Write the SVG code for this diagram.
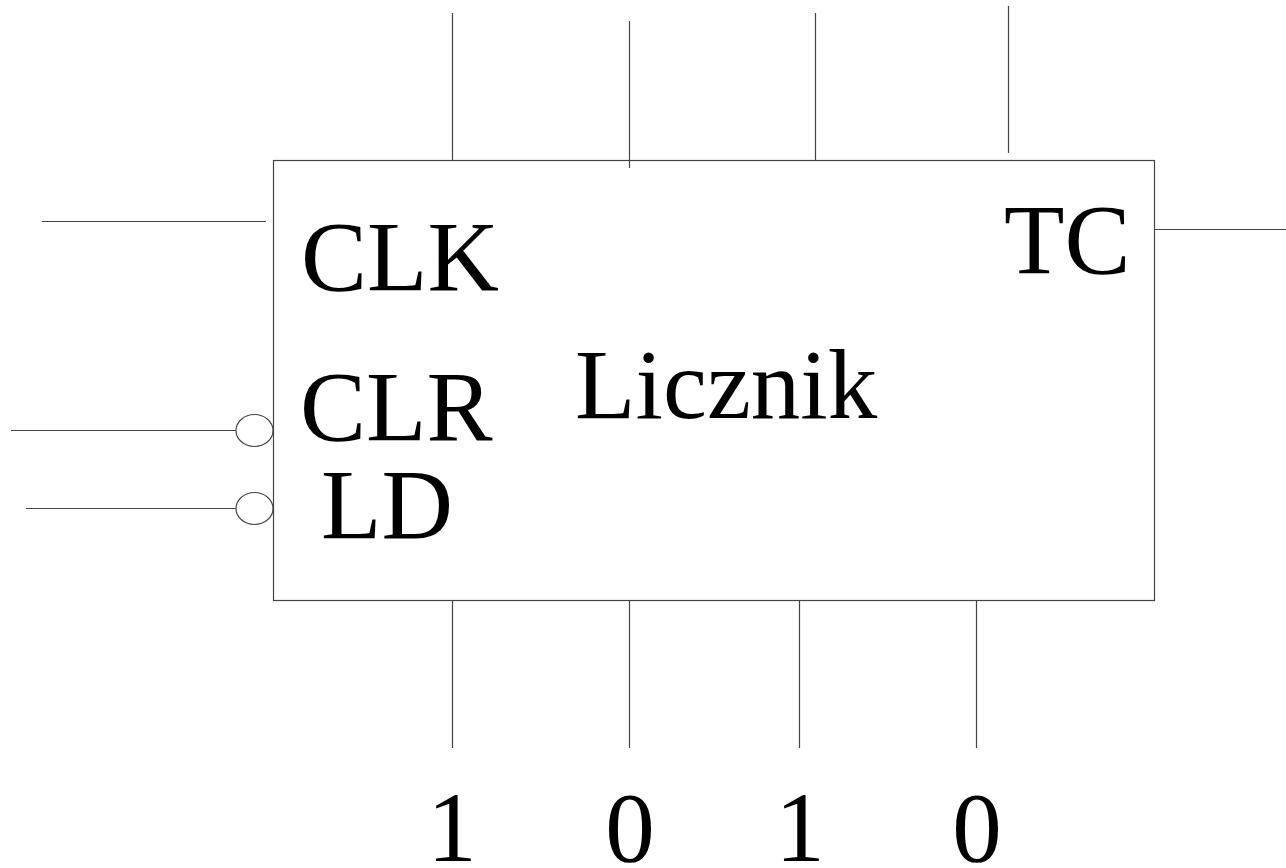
<svg xmlns="http://www.w3.org/2000/svg" width="1286" height="868" viewBox="0 0 1286 868">
<style>
.w{stroke:#444;stroke-width:1.2;fill:none}
.b{fill:#fff;stroke:#444;stroke-width:1.2}
.t{font-family:"Liberation Serif","Times New Roman",serif;font-size:99px;fill:#000}
</style>
<rect width="1286" height="868" fill="#fff"/>
<g id="connectors">
<line class="w" x1="452.5" y1="13" x2="452.5" y2="161"/>
<line class="w" x1="629.5" y1="21" x2="629.5" y2="168"/>
<line class="w" x1="815.5" y1="13" x2="815.5" y2="161"/>
<line class="w" x1="1008.5" y1="6" x2="1008.5" y2="153"/>
<line class="w" x1="42" y1="221.5" x2="266" y2="221.5"/>
<line class="w" x1="1155" y1="229.5" x2="1286" y2="229.5"/>
<line class="w" x1="11" y1="430.5" x2="236" y2="430.5"/>
<line class="w" x1="26" y1="508.5" x2="236" y2="508.5"/>
<line class="w" x1="452.5" y1="601" x2="452.5" y2="748"/>
<line class="w" x1="629.5" y1="601" x2="629.5" y2="748"/>
<line class="w" x1="799.5" y1="601" x2="799.5" y2="748"/>
<line class="w" x1="976.5" y1="601" x2="976.5" y2="748"/>
</g>
<g id="licznik">
<rect class="w" x="273.5" y="160.5" width="881" height="440"/>
<text class="t" x="575" y="418">Licznik</text>
</g>
<g id="clk"><text class="t" x="301" y="290">CLK</text></g>
<g id="tc"><text class="t" x="1004" y="273">TC</text></g>
<g id="clr">
<ellipse class="b" cx="254.5" cy="430.5" rx="18.5" ry="16"/>
<text class="t" x="300" y="440">CLR</text>
</g>
<g id="ld">
<ellipse class="b" cx="254.5" cy="508.5" rx="18.5" ry="16"/>
<text class="t" x="321" y="538">LD</text>
</g>
<g id="bits">
<text class="t" x="452" y="861" text-anchor="middle">1</text>
<text class="t" x="630" y="861" text-anchor="middle">0</text>
<text class="t" x="800" y="861" text-anchor="middle">1</text>
<text class="t" x="977" y="861" text-anchor="middle">0</text>
</g>
</svg>
